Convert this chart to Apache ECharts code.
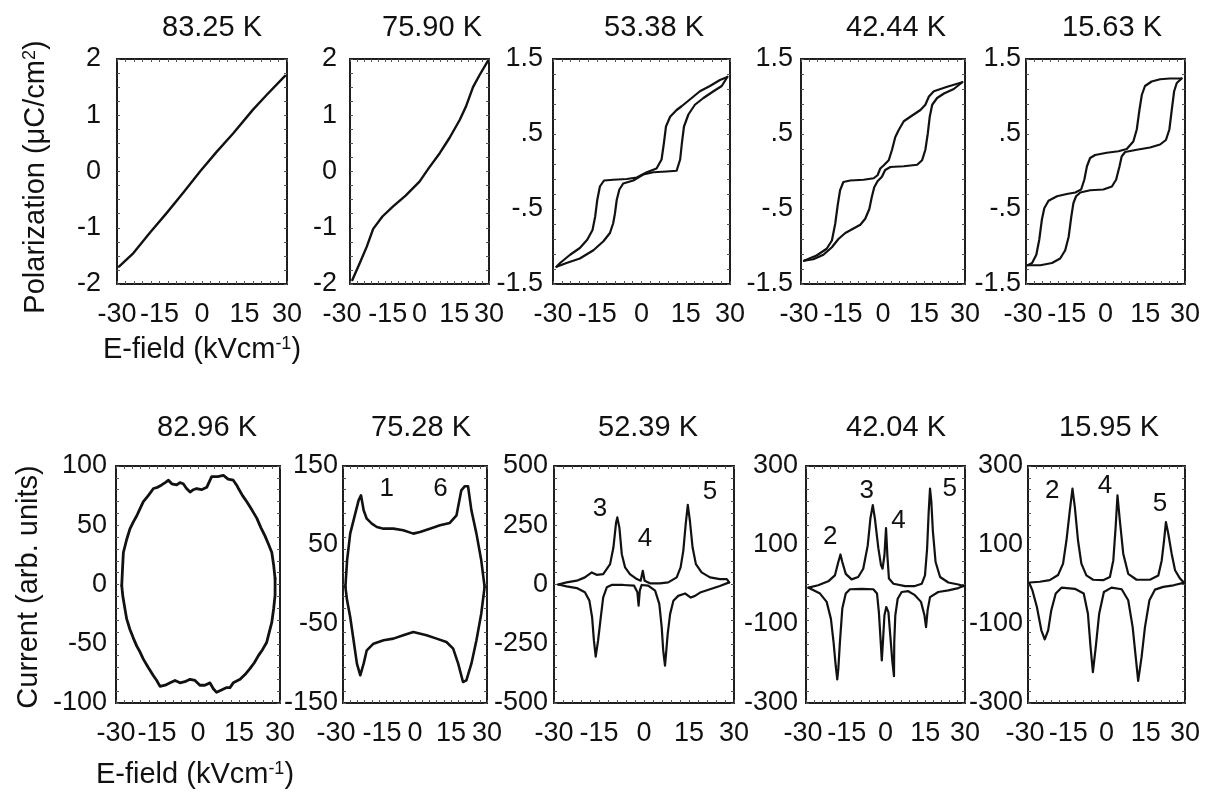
<!DOCTYPE html>
<html><head><meta charset="utf-8">
<script src="https://cdn.jsdelivr.net/npm/echarts@6/dist/echarts.min.js"></script>
<style>html,body{margin:0;padding:0;background:#fff}#c{width:1219px;height:798px}</style>
</head><body><div id="c"></div>
<script>
// ---------- tick labels ----------
const E_TICKS = [-30, -15, 0, 15, 30];
const P_TICKS_A = [-2, -1, 0, 1, 2];
const P_TICKS_B = [-1.5, -0.5, 0.5, 1.5];
const I_TICKS_1 = [-100, -50, 0, 50, 100];
const I_TICKS_2 = [-150, -50, 50, 150];
const I_TICKS_3 = [-500, -250, 0, 250, 500];
const I_TICKS_4 = [-300, -100, 100, 300];
const TOP_TEMPS = ['83.25 K', '75.90 K', '53.38 K', '42.44 K', '15.63 K'];
const BOT_TEMPS = ['82.96 K', '75.28 K', '52.39 K', '42.04 K', '15.95 K'];

// ---------- polarization data [E, P] ----------
const P83 = [[-29.3,-1.69],[-24.2,-1.45],[-18.4,-1.09],[-12.5,-0.74],[-6.5,-0.37],[-0.7,0.0],[5,0.34],[11.05,0.68],[18,1.10],[22.8,1.36],[29.3,1.70]];
const P76 = [[-29.0,-1.93],[-26,-1.65],[-22.8,-1.34],[-20,-1.02],[-16,-0.80],[-11.4,-0.62],[-6,-0.43],[0,-0.18],[4,0.06],[8.8,0.33],[13,0.60],[17.4,0.92],[20,1.15],[23.1,1.50],[26,1.72],[29.6,1.97]];
const P53_UP = [[-28.8,-1.27],[-25.4,-1.22],[-20.9,-1.16],[-16.3,-1.05],[-12.9,-0.93],[-10.7,-0.82],[-9.6,-0.69],[-9.0,-0.56],[-8.4,-0.38],[-7.5,-0.24],[-6.2,-0.16],[-2.8,-0.12],[0.6,-0.04],[4.0,-0.01],[8.5,0.0],[11.9,0.01],[13.1,0.16],[13.7,0.38],[14.4,0.60],[15.9,0.76],[18.1,0.89],[21.0,0.98],[24.4,1.07],[27.2,1.14],[29.1,1.26]];
const P53_DN = [[29.1,1.26],[26.6,1.22],[23.2,1.14],[19.8,1.07],[16.4,0.96],[13.6,0.87],[11.9,0.82],[9.7,0.73],[8.3,0.60],[7.6,0.38],[6.8,0.16],[5.1,0.04],[1.8,-0.01],[-1.6,-0.08],[-5.0,-0.10],[-9.6,-0.11],[-12.7,-0.12],[-14.1,-0.20],[-15.0,-0.38],[-15.7,-0.60],[-16.6,-0.78],[-18.4,-0.91],[-20.9,-1.02],[-24.2,-1.11],[-27.6,-1.22],[-28.8,-1.27]];
const P42_UP = [[-28.9,-1.19],[-25.5,-1.17],[-21.8,-1.11],[-18.7,-1.01],[-16.3,-0.90],[-13.8,-0.82],[-10.8,-0.76],[-8.3,-0.71],[-6.5,-0.63],[-5.0,-0.50],[-4.1,-0.34],[-3.2,-0.21],[-2.0,-0.13],[-0.4,-0.07],[0.8,0.02],[2.7,0.06],[7.6,0.07],[12.5,0.09],[14.3,0.15],[15.5,0.29],[16.4,0.51],[17.1,0.73],[18.0,0.89],[19.8,0.98],[22.3,1.04],[25.9,1.10],[29.0,1.19]];
const P42_DN = [[29.0,1.19],[23.5,1.13],[18.6,1.07],[16.8,1.0],[15.5,0.89],[13.7,0.82],[10.0,0.73],[7.6,0.67],[5.7,0.55],[4.5,0.46],[3.3,0.29],[2.1,0.15],[0.2,0.08],[-1.0,0.04],[-2.0,-0.05],[-3.4,-0.09],[-7.1,-0.11],[-12.0,-0.12],[-14.5,-0.14],[-15.7,-0.25],[-16.5,-0.43],[-17.5,-0.70],[-18.7,-0.92],[-20.6,-1.03],[-24.3,-1.12],[-28.9,-1.19]];
const P16_UP = [[-29.3,-1.25],[-24.6,-1.25],[-20.2,-1.22],[-17.1,-1.16],[-15.2,-1.05],[-13.9,-0.87],[-12.9,-0.60],[-12.1,-0.42],[-11.1,-0.33],[-9.5,-0.28],[-5.8,-0.25],[-0.8,-0.24],[2.4,-0.20],[4.0,-0.11],[5.3,0.07],[6.1,0.20],[7.4,0.26],[11.8,0.29],[16.8,0.32],[20.6,0.36],[22.8,0.42],[24.1,0.56],[25.0,0.82],[25.9,1.07],[26.9,1.18],[28.7,1.24]];
const P16_DN = [[28.7,1.24],[24.3,1.24],[20.6,1.23],[17.4,1.20],[14.9,1.14],[13.7,1.02],[12.8,0.82],[11.8,0.56],[10.5,0.40],[8.0,0.30],[4.9,0.27],[0.5,0.25],[-3.9,0.22],[-5.8,0.18],[-7.0,0.07],[-8.0,-0.11],[-9.2,-0.24],[-11.4,-0.28],[-14.6,-0.30],[-18.3,-0.33],[-21.5,-0.39],[-23.1,-0.49],[-24.0,-0.64],[-25.0,-0.91],[-26.1,-1.11],[-27.7,-1.22],[-29.3,-1.25]];

// ---------- current data [E, I] ----------
const I83_UP = [[-27.9,-1],[-27.6,14],[-27.3,27],[-26.1,38],[-24.9,47],[-23.6,53],[-22.4,58],[-21.2,64],[-20.0,70],[-18.2,75],[-16.3,81],[-14.8,82],[-13.3,84],[-12.0,86],[-10.8,88],[-9.6,85],[-7.8,84],[-6.6,86],[-5.4,85],[-4.2,81],[-2.9,78],[-1.7,80],[-0.5,81],[1.3,80],[3.2,82],[4.2,87],[5.0,91],[7.2,91],[9.3,92],[11.0,89],[12.9,88],[14.1,84],[14.8,81],[16.3,75],[17.8,70],[19.7,63],[21.5,56],[23.0,48],[24.5,41],[25.8,34],[27.0,27],[27.7,16],[28.2,5]];
const I83_DN = [[28.2,5],[28.2,-9],[27.7,-20],[27.0,-32],[26.1,-40],[25.1,-49],[23.6,-55],[22.1,-60],[20.6,-66],[19.0,-71],[17.2,-76],[15.4,-80],[12.9,-83],[11.7,-87],[10.5,-87],[8.6,-89],[6.8,-91],[5.6,-88],[4.4,-83],[2.5,-85],[0.7,-85],[-1.1,-81],[-2.9,-80],[-4.8,-82],[-6.6,-83],[-8.4,-81],[-10.2,-83],[-12.0,-85],[-13.9,-86],[-15.1,-81],[-16.3,-77],[-18.2,-70],[-20.0,-63],[-21.2,-57],[-22.4,-52],[-23.7,-45],[-24.9,-38],[-26.1,-29],[-26.7,-21],[-27.5,-10],[-27.9,-1]];
const I75_UP = [[-29.0,-3],[-28.3,30.6],[-27.0,64.4],[-24.9,89.7],[-23.5,106.5],[-22.5,112.9],[-21.4,93.9],[-20.1,83.3],[-18.0,77.0],[-15.9,72.8],[-13.1,70.7],[-9.0,70.7],[-4.9,68.6],[-0.7,64.4],[2.1,66.5],[6.2,70.7],[10.4,74.9],[14.5,77.9],[17.3,87.6],[19.3,119.2],[20.7,124.3],[22.1,124.3],[23.5,93.9],[25.6,64.4],[27.6,30.6],[29.0,-3]];
const I75_DN = [[29.0,-3],[27.6,-36.9],[25.6,-70.6],[23.5,-100.2],[21.4,-121.3],[20.0,-123.4],[18.0,-100.2],[15.9,-81.2],[13.1,-72.8],[9.0,-68.5],[4.8,-64.3],[-0.7,-60.1],[-4.9,-64.3],[-9.0,-68.5],[-13.1,-70.6],[-17.3,-74.9],[-20.1,-83.3],[-21.4,-100.2],[-22.8,-114.9],[-24.2,-100.2],[-25.6,-70.6],[-27.0,-41.1],[-28.3,-20.0],[-29.0,-3]];
const I52_UP = [[-28.6,0],[-25.8,9],[-22.4,16],[-19.7,30],[-17.4,51],[-15.8,41],[-13.6,44],[-11.3,86],[-10.2,156],[-9.3,262],[-8.9,283],[-8.2,240],[-7.4,128],[-6.3,72],[-4.7,44],[-2.4,23],[-1.1,16],[-0.4,58],[0.2,16],[2.0,5],[5.3,5],[8.1,9],[10.9,30],[12.2,72],[13.1,142],[13.9,255],[14.6,336],[15.3,269],[16.2,156],[17.3,86],[19.2,51],[22.0,30],[25.3,23],[27.6,23],[28.4,9]];
const I52_DN = [[28.4,9],[25.3,-6],[22.0,-20],[18.7,-34],[17.0,-48],[15.6,-55],[13.7,-38],[11.4,-48],[9.8,-69],[8.7,-125],[7.9,-208],[7.3,-299],[7.0,-342],[6.4,-278],[5.9,-180],[5.1,-82],[3.7,-26],[1.4,-5],[-0.8,-2],[-1.4,-26],[-1.8,-89],[-2.2,-33],[-3.3,-5],[-6.9,-2],[-10.8,-2],[-12.4,-12],[-13.6,-54],[-14.4,-138],[-15.3,-236],[-16.1,-304],[-16.7,-236],[-17.3,-138],[-18.2,-68],[-19.7,-33],[-22.4,-15],[-25.8,-8],[-28.6,0]];
const I42_UP = [[-29.1,-8],[-25.4,-2],[-21.6,8],[-19.1,23],[-17.8,57],[-17.0,76],[-16.3,57],[-15.0,27],[-12.8,13],[-10.3,19],[-8.4,40],[-6.7,99],[-5.7,167],[-4.8,201],[-4.0,167],[-2.7,92],[-1.7,49],[-1.1,40],[-0.4,74],[0.2,143],[0.7,74],[1.3,15],[3.0,2],[7.4,-4],[11.1,-4],[13.7,2],[14.9,23],[15.7,91],[16.3,184],[16.8,243],[17.3,209],[17.9,133],[18.9,57],[20.6,19],[23.7,5],[27.5,0],[29.4,-4]];
const I42_DN = [[29.4,-4],[27.5,-9],[23.7,-15],[19.9,-19],[16.8,-32],[15.9,-65],[15.3,-108],[14.7,-78],[13.4,-44],[11.1,-27],[8.6,-17],[6.1,-19],[4.6,-36],[3.7,-78],[3.3,-146],[3.2,-232],[2.6,-196],[1.8,-129],[1.1,-70],[0.3,-57],[-0.4,-78],[-0.9,-137],[-1.4,-192],[-1.8,-146],[-2.5,-70],[-3.2,-23],[-4.6,-12],[-9.0,-11],[-13.4,-12],[-15.0,-23],[-16.3,-61],[-17.2,-146],[-17.8,-213],[-18.2,-240],[-18.8,-205],[-19.6,-146],[-20.6,-87],[-22.2,-44],[-24.7,-23],[-27.9,-12],[-29.1,-8]];
const I16_UP = [[-29.4,5],[-25.5,7],[-21.7,11],[-18.5,24],[-16.6,53],[-15.3,112],[-14.0,188],[-13.0,243],[-12.1,196],[-10.9,112],[-9.6,53],[-7.7,23],[-5.1,12],[-1.3,11],[1.3,19],[2.6,61],[3.5,146],[4.2,226],[5.1,162],[6.4,78],[8.3,27],[11.5,12],[16.6,12],[19.8,23],[21.1,61],[22.0,112],[22.7,158],[23.6,129],[24.9,78],[26.2,36],[28.1,15],[29.4,6]];
const I16_DN = [[29.4,4],[25.6,-2],[21.7,-6],[18.5,-13],[16.4,-40],[14.7,-108],[13.4,-184],[12.1,-244],[11.3,-192],[10.0,-108],[8.3,-40],[5.8,-12],[1.9,-8],[-1.0,-19],[-2.8,-74],[-4.1,-158],[-5.2,-222],[-6.1,-158],[-7.1,-74],[-8.7,-23],[-12.1,-11],[-17.2,-8],[-19.4,-23],[-21.1,-65],[-22.3,-116],[-23.6,-139],[-24.9,-116],[-26.6,-57],[-28.3,-15],[-29.4,2]];

// ---------- peak labels [text, E, I] ----------
const NOTES_75 = [['1', -11.8, 121], ['6', 10.6, 121]];
const NOTES_52 = [['3', -14.7, 318], ['4', 0.3, 192], ['5', 22.0, 392]];
const NOTES_42 = [['2', -20.9, 120], ['3', -7.1, 238], ['4', 4.9, 162], ['5', 24.2, 243]];
const NOTES_16 = [['2', -20.7, 238], ['4', -0.6, 249], ['5', 20.4, 203]];

// ---------- layout ----------
const FONT = '"Liberation Sans", Arial, Helvetica, sans-serif';
const INK = '#111';
const panels = [
  {g:[117,59,170,225], y:[-2,2], yt:P_TICKS_A, yn:16, lm:16, s:[P83], lw:2.4, sa:0, sb:0},
  {g:[350,59,139,225], y:[-2,2], yt:P_TICKS_A, yn:16, lm:13, s:[P76], lw:2.4, sa:8, sb:3},
  {g:[553,59,177,225], y:[-1.5,1.5], yt:P_TICKS_B, yn:15, lm:10, s:[P53_UP,P53_DN], lw:2.2, sa:0, sb:0},
  {g:[801,59,164,225], y:[-1.5,1.5], yt:P_TICKS_B, yn:15, lm:8, s:[P42_UP,P42_DN], lw:2.2, sa:2, sb:1},
  {g:[1026,59,159,225], y:[-1.5,1.5], yt:P_TICKS_B, yn:15, lm:5, s:[P16_UP,P16_DN], lw:2.2, sa:3, sb:1},
  {g:[116,466,164,237], y:[-100,100], yt:I_TICKS_1, yn:20, lm:9, s:[I83_UP,I83_DN], lw:2.8, sa:0, sb:0},
  {g:[343,466,144,237], y:[-150,150], yt:I_TICKS_2, yn:20, lm:5, s:[I75_UP,I75_DN], lw:2.6, sa:7, sb:3, notes:NOTES_75},
  {g:[554,466,180,237], y:[-500,500], yt:I_TICKS_3, yn:20, lm:6, s:[I52_UP,I52_DN], lw:2.2, sa:0, sb:0, notes:NOTES_52},
  {g:[806,466,159,237], y:[-300,300], yt:I_TICKS_4, yn:20, lm:8, s:[I42_UP,I42_DN], lw:2.2, sa:3, sb:1, notes:NOTES_42},
  {g:[1028,466,157,237], y:[-300,300], yt:I_TICKS_4, yn:20, lm:5, s:[I16_UP,I16_DN], lw:2.2, sa:3, sb:1, notes:NOTES_16}
];

function steps(a, b, n) { const r = []; for (let k = 0; k <= n; k++) r.push(+(a + (b - a) * k / n).toFixed(6)); return r; }
function fmtP(v) { return String(v).replace(/^(-?)0\./, '$1.'); }

const grid = [], xAxis = [], yAxis = [], series = [];
const xMinor = steps(-30, 30, 20);
panels.forEach((p, i) => {
  grid.push({left:p.g[0], top:p.g[1], width:p.g[2], height:p.g[3], show:true, borderColor:'#1e1e1e', borderWidth:2, backgroundColor:'transparent'});
  const yMinor = steps(p.y[0], p.y[1], p.yn);
  const tick = vals => ({show:true, inside:true, length:3, customValues:vals, lineStyle:{color:'#555', width:1}});
  const line = {show:false, onZero:false};
  const rich = {a:{fontSize:27, fontFamily:FONT, color:INK, padding:[0, 2 * p.sa, 0, 0]},
                b:{fontSize:27, fontFamily:FONT, color:INK, padding:[0, 0, 0, 2 * p.sb]}};
  const xf = v => v === -30 ? '{a|-30}' : (v === -15 ? '{b|-15}' : String(v));
  xAxis.push({type:'value', gridIndex:i, min:-30, max:30, position:'bottom', axisLine:line, splitLine:{show:false}, axisTick:tick(xMinor),
    axisLabel:{show:true, customValues:E_TICKS, margin:17, fontSize:27, color:INK, fontFamily:FONT, formatter:xf, rich:rich, showMinLabel:true, showMaxLabel:true, hideOverlap:false}});
  xAxis.push({type:'value', gridIndex:i, min:-30, max:30, position:'top', axisLine:line, splitLine:{show:false}, axisTick:tick(xMinor), axisLabel:{show:false}});
  yAxis.push({type:'value', gridIndex:i, min:p.y[0], max:p.y[1], position:'left', axisLine:line, splitLine:{show:false}, axisTick:tick(yMinor),
    axisLabel:{show:true, customValues:p.yt, margin:p.lm, fontSize:27, color:INK, fontFamily:FONT, formatter:fmtP, showMinLabel:true, showMaxLabel:true, hideOverlap:false}});
  yAxis.push({type:'value', gridIndex:i, min:p.y[0], max:p.y[1], position:'right', axisLine:line, splitLine:{show:false}, axisTick:tick(yMinor), axisLabel:{show:false}});
  p.s.forEach(d => series.push({type:'line', xAxisIndex:2*i, yAxisIndex:2*i, data:d, showSymbol:false, symbol:'none', smooth:false, lineStyle:{color:INK, width:p.lw, join:'round', cap:'round'}, silent:true}));
  if (p.notes) series.push({type:'scatter', xAxisIndex:2*i, yAxisIndex:2*i, symbol:'circle', symbolSize:0, itemStyle:{color:INK, opacity:1}, silent:true,
    data:p.notes.map(n => ({name:n[0], value:[n[1], n[2]]})),
    label:{show:true, position:'inside', formatter:'{b}', fontSize:26, color:INK, opacity:1, fontFamily:FONT, textBorderWidth:0}});
});

const titleX = [212, 432, 654, 896, 1112];
const titleXB = [207, 421, 648, 896, 1109];
const graphic = [];
const txt = (t, x, y) => ({type:'text', x:x, y:y, silent:true, style:{text:t, font:'29px ' + FONT, fill:INK, align:'center', verticalAlign:'middle', textAlign:'center', textVerticalAlign:'middle'}});
TOP_TEMPS.forEach((t, k) => graphic.push(txt(t, titleX[k], 28)));
BOT_TEMPS.forEach((t, k) => graphic.push(txt(t, titleXB[k], 428)));
const richT = {n:{fontSize:29, fontFamily:FONT, color:INK}, s:{fontSize:18, fontFamily:FONT, color:INK, verticalAlign:'top'}};
const rtxt = (t, x, y, rot) => ({type:'text', x:x, y:y, rotation:rot, silent:true, style:{text:t, rich:richT, fill:INK, font:'29px ' + FONT, align:'center', verticalAlign:'middle', textAlign:'center', textVerticalAlign:'middle'}});
graphic.push(rtxt('{n|Polarization (μC/cm}{s|2}{n|)}', 36, 177, Math.PI / 2));
graphic.push(rtxt('{n|E-field (kVcm}{s|-1}{n|)}', 202, 350, 0));
graphic.push(rtxt('{n|Current (arb. units)}', 29, 587, Math.PI / 2));
graphic.push(rtxt('{n|E-field (kVcm}{s|-1}{n|)}', 195, 775, 0));

const chart = echarts.init(document.getElementById('c'), null, {renderer:'canvas'});
chart.setOption({backgroundColor:'#fff', animation:false, grid, xAxis, yAxis, series, graphic});
</script></body></html>
